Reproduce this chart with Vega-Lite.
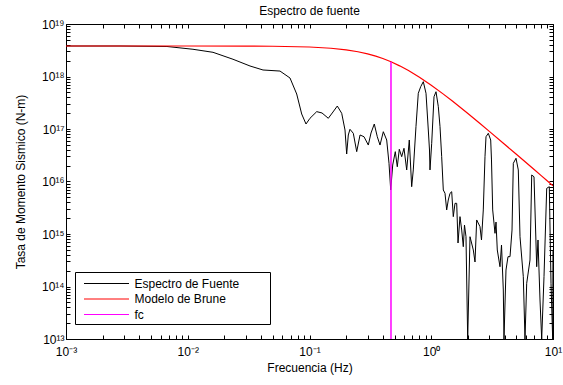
{
  "$schema": "https://vega.github.io/schema/vega-lite/v6.json",
  "width": 487,
  "height": 315,
  "autosize": {"type": "none"},
  "padding": {"left": 66, "top": 24, "right": 10, "bottom": 46},
  "background": "white",
  "title": {"text": "Espectro de fuente", "fontSize": 12, "fontWeight": "normal", "font": "Liberation Sans", "color": "black", "offset": 0, "anchor": "middle"},
  "datasets": {
    "espectro": [
      {"f": 0.001, "m": 3.81e18}, {"f": 0.002777, "m": 3.81e18}, {"f": 0.00675, "m": 3.73e18}, {"f": 0.01104, "m": 3.30e18},
      {"f": 0.01612, "m": 2.89e18}, {"f": 0.02353, "m": 2.13e18}, {"f": 0.03246, "m": 1.585e18}, {"f": 0.04151, "m": 1.33e18},
      {"f": 0.05723, "m": 1.27e18}, {"f": 0.06917, "m": 9.36e17}, {"f": 0.07849, "m": 4.64e17}, {"f": 0.08628, "m": 1.93e17},
      {"f": 0.09361, "m": 1.245e17}, {"f": 0.1009, "m": 1.60e17}, {"f": 0.1146, "m": 2.14e17}, {"f": 0.1267, "m": 2.02e17},
      {"f": 0.1427, "m": 1.60e17}, {"f": 0.156, "m": 2.11e17}, {"f": 0.1692, "m": 2.74e17}, {"f": 0.1839, "m": 1.99e17},
      {"f": 0.1957, "m": 9.57e16}, {"f": 0.202, "m": 3.34e16}, {"f": 0.2083, "m": 7.69e16}, {"f": 0.215, "m": 9.87e16},
      {"f": 0.229, "m": 8.28e16}, {"f": 0.2442, "m": 3.70e16}, {"f": 0.26, "m": 7.69e16}, {"f": 0.2803, "m": 7.13e16},
      {"f": 0.3041, "m": 4.95e16}, {"f": 0.32, "m": 8.39e16}, {"f": 0.3405, "m": 1.245e17}, {"f": 0.3604, "m": 7.13e16},
      {"f": 0.3794, "m": 4.95e16}, {"f": 0.4039, "m": 8.88e16}, {"f": 0.4306, "m": 6.17e16}, {"f": 0.4498, "m": 2.22e16},
      {"f": 0.4645, "m": 6.89e15}, {"f": 0.4824, "m": 2.06e16}, {"f": 0.5066, "m": 3.70e16}, {"f": 0.5261, "m": 1.91e16},
      {"f": 0.5464, "m": 4.11e16}, {"f": 0.5718, "m": 2.97e16}, {"f": 0.5972, "m": 4.29e16}, {"f": 0.6285, "m": 1.66e16},
      {"f": 0.6601, "m": 6.17e16}, {"f": 0.6907, "m": 7.96e15}, {"f": 0.712, "m": 1.66e16}, {"f": 0.7491, "m": 1.11e17},
      {"f": 0.7826, "m": 4.79e17}, {"f": 0.8191, "m": 6.39e17}, {"f": 0.8604, "m": 7.96e17}, {"f": 0.9055, "m": 4.79e17},
      {"f": 0.9458, "m": 9.57e16}, {"f": 0.9674, "m": 3.98e16}, {"f": 0.9765, "m": 1.66e16}, {"f": 1.0085, "m": 5.34e16},
      {"f": 1.0534, "m": 4.12e17}, {"f": 1.094, "m": 5.13e17}, {"f": 1.143, "m": 2.66e17}, {"f": 1.18, "m": 1.11e17},
      {"f": 1.218, "m": 2.97e16}, {"f": 1.256, "m": 6.89e15}, {"f": 1.297, "m": 5.96e15}, {"f": 1.339, "m": 2.87e15},
      {"f": 1.38, "m": 4.44e15}, {"f": 1.426, "m": 5.96e15}, {"f": 1.472, "m": 6.39e15}, {"f": 1.517, "m": 2.14e15},
      {"f": 1.567, "m": 3.84e15}, {"f": 1.618, "m": 3.84e15}, {"f": 1.659, "m": 6.74e14}, {"f": 1.722, "m": 2.14e15},
      {"f": 1.779, "m": 1.19e15}, {"f": 1.833, "m": 5.73e14}, {"f": 1.875, "m": 1.48e15}, {"f": 1.929, "m": 8.88e14},
      {"f": 1.992, "m": 1e13}, {"f": 2.081, "m": 8.88e14}, {"f": 2.215, "m": 4.96e14}, {"f": 2.288, "m": 2.93e14},
      {"f": 2.362, "m": 1.85e15}, {"f": 2.514, "m": 1.38e15}, {"f": 2.586, "m": 7.69e14}, {"f": 2.676, "m": 2.87e15},
      {"f": 2.763, "m": 2.97e16}, {"f": 2.817, "m": 7.13e16}, {"f": 2.942, "m": 8.28e16}, {"f": 3.078, "m": 6.17e16},
      {"f": 3.125, "m": 2.57e16}, {"f": 3.197, "m": 2.87e15}, {"f": 3.339, "m": 1.03e15}, {"f": 3.403, "m": 1.69e15},
      {"f": 3.487, "m": 4.96e14}, {"f": 3.67, "m": 2.38e14}, {"f": 3.776, "m": 6.17e14}, {"f": 3.907, "m": 8.58e13},
      {"f": 3.958, "m": 1e13}, {"f": 4.111, "m": 2.06e14}, {"f": 4.27, "m": 3.70e14}, {"f": 4.436, "m": 3.70e14},
      {"f": 4.607, "m": 1.19e15}, {"f": 4.721, "m": 2.22e16}, {"f": 4.968, "m": 2.77e16}, {"f": 5.188, "m": 1.66e16},
      {"f": 5.358, "m": 8.88e14}, {"f": 5.703, "m": 1.54e14}, {"f": 5.888, "m": 1e13}, {"f": 6.081, "m": 1.15e14},
      {"f": 6.474, "m": 3.20e14}, {"f": 6.686, "m": 1.33e16}, {"f": 6.982, "m": 1.23e16}, {"f": 7.347, "m": 2.38e14},
      {"f": 7.53, "m": 7.69e14}, {"f": 7.822, "m": 5.53e13}, {"f": 8.076, "m": 1e13}, {"f": 8.436, "m": 1.54e14},
      {"f": 8.878, "m": 7.42e15}, {"f": 9.325, "m": 7.96e15}, {"f": 9.63, "m": 1.15e14}, {"f": 9.94, "m": 1e13},
      {"f": 10, "m": 4.96e14}
    ],
    "brune": [
      {"f": 0.001, "m": 3.81e18}, {"f": 0.01, "m": 3.808e18}, {"f": 0.03, "m": 3.794e18}, {"f": 0.05, "m": 3.767e18},
      {"f": 0.1, "m": 3.643e18}, {"f": 0.15, "m": 3.454e18}, {"f": 0.2, "m": 3.219e18}, {"f": 0.25, "m": 2.961e18},
      {"f": 0.3, "m": 2.697e18}, {"f": 0.35, "m": 2.44e18}, {"f": 0.4, "m": 2.198e18}, {"f": 0.467, "m": 1.905e18},
      {"f": 0.55, "m": 1.596e18}, {"f": 0.65, "m": 1.297e18}, {"f": 0.8, "m": 9.68e17}, {"f": 1, "m": 6.82e17},
      {"f": 1.25, "m": 4.667e17}, {"f": 1.5, "m": 3.366e17}, {"f": 2, "m": 1.97e17}, {"f": 2.5, "m": 1.285e17},
      {"f": 3, "m": 9.01e16}, {"f": 4, "m": 5.12e16}, {"f": 5, "m": 3.296e16}, {"f": 6, "m": 2.294e16},
      {"f": 7, "m": 1.688e16}, {"f": 8, "m": 1.294e16}, {"f": 9, "m": 1.023e16}, {"f": 10, "m": 8.29e15}
    ],
    "fc": [{"f": 0.467, "m": 1.905e18, "m2": 1e13}]
  },
  "layer": [
    {
      "data": {"name": "espectro"},
      "transform": [{"calculate": "'Espectro de Fuente'", "as": "serie"}],
      "mark": {"type": "line", "strokeWidth": 1, "clip": true, "interpolate": "linear"},
      "encoding": {
        "x": {"field": "f", "type": "quantitative",
          "scale": {"type": "log", "domain": [0.001, 10], "nice": false},
          "axis": {"orient": "bottom", "title": "Frecuencia (Hz)", "titlePadding": 5, "labelPadding": 11,
            "values": [0.001,0.002,0.003,0.004,0.005,0.006,0.007,0.008,0.009,0.01,0.02,0.03,0.04,0.05,0.06,0.07,0.08,0.09,0.1,0.2,0.3,0.4,0.5,0.6,0.7,0.8,0.9,1,2,3,4,5,6,7,8,9,10],
            "labelExpr": "indexof([0.001,0.01,0.1,1,10], datum.value) >= 0 ? '10' + ['⁻³','⁻²','⁻¹','⁰','¹'][round(log(datum.value)/LN10)+3] : ''"}},
        "y": {"field": "m", "type": "quantitative",
          "scale": {"type": "log", "domain": [1e13, 1e19], "nice": false},
          "axis": {"orient": "left", "title": "Tasa de Momento Sismico (N-m)", "titlePadding": 14, "labelPadding": 6,
            "values": [1e13,2e13,3e13,4e13,5e13,6e13,7e13,8e13,9e13,1e14,2e14,3e14,4e14,5e14,6e14,7e14,8e14,9e14,1e15,2e15,3e15,4e15,5e15,6e15,7e15,8e15,9e15,1e16,2e16,3e16,4e16,5e16,6e16,7e16,8e16,9e16,1e17,2e17,3e17,4e17,5e17,6e17,7e17,8e17,9e17,1e18,2e18,3e18,4e18,5e18,6e18,7e18,8e18,9e18,1e19],
            "labelExpr": "indexof([1e13,1e14,1e15,1e16,1e17,1e18,1e19], datum.value) >= 0 ? '10' + ['¹³','¹⁴','¹⁵','¹⁶','¹⁷','¹⁸','¹⁹'][round(log(datum.value)/LN10)-13] : ''"}},
        "color": {"field": "serie", "type": "nominal",
          "scale": {"domain": ["Espectro de Fuente", "Modelo de Brune", "fc"], "range": ["#000000", "#ff0000", "#ff00ff"]},
          "legend": {"title": null,
            "orient": "none", "legendX": 9, "legendY": 248, "symbolType": "M-1,0H5", "symbolSize": 225,
            "symbolStrokeWidth": 1, "labelFontSize": 12, "labelFont": "Liberation Sans", "labelColor": "black",
            "strokeColor": "black", "fillColor": "white", "padding": 3.5, "symbolOffset": 5, "rowPadding": 1.5, "labelOffset": 35, "labelLimit": 300,
            "labelExpr": "datum.label + '\u2800\u2800\u2800'"}}
      }
    },
    {
      "data": {"name": "brune"},
      "transform": [{"calculate": "'Modelo de Brune'", "as": "serie"}],
      "mark": {"type": "line", "strokeWidth": 1.2, "clip": true},
      "encoding": {
        "x": {"field": "f", "type": "quantitative",
          "axis": {"orient": "top", "labels": false, "title": null, "domain": false,
            "values": [0.001,0.002,0.003,0.004,0.005,0.006,0.007,0.008,0.009,0.01,0.02,0.03,0.04,0.05,0.06,0.07,0.08,0.09,0.1,0.2,0.3,0.4,0.5,0.6,0.7,0.8,0.9,1,2,3,4,5,6,7,8,9,10]}},
        "y": {"field": "m", "type": "quantitative",
          "axis": {"orient": "right", "labels": false, "title": null, "domain": false,
            "values": [1e13,2e13,3e13,4e13,5e13,6e13,7e13,8e13,9e13,1e14,2e14,3e14,4e14,5e14,6e14,7e14,8e14,9e14,1e15,2e15,3e15,4e15,5e15,6e15,7e15,8e15,9e15,1e16,2e16,3e16,4e16,5e16,6e16,7e16,8e16,9e16,1e17,2e17,3e17,4e17,5e17,6e17,7e17,8e17,9e17,1e18,2e18,3e18,4e18,5e18,6e18,7e18,8e18,9e18,1e19]}},
        "color": {"field": "serie", "type": "nominal"}
      }
    },
    {
      "data": {"name": "fc"},
      "transform": [{"calculate": "'fc'", "as": "serie"}],
      "mark": {"type": "rule", "strokeWidth": 1.5},
      "encoding": {
        "x": {"field": "f", "type": "quantitative", "axis": null},
        "y": {"field": "m", "type": "quantitative", "axis": null},
        "y2": {"field": "m2"},
        "color": {"field": "serie", "type": "nominal"}
      }
    }
  ],
  "resolve": {"axis": {"x": "independent", "y": "independent"}},
  "config": {
    "view": {"stroke": "black", "strokeWidth": 1},
    "axis": {"grid": false, "domainColor": "black", "tickColor": "black", "labelColor": "black", "titleColor": "black",
      "labelFont": "Liberation Sans", "titleFont": "Liberation Sans", "labelFontSize": 12, "titleFontSize": 12,
      "titleFontWeight": "normal", "tickSize": -4, "minExtent": 0, "labelBound": false, "labelOverlap": false, "labelFlush": false}
  }
}
